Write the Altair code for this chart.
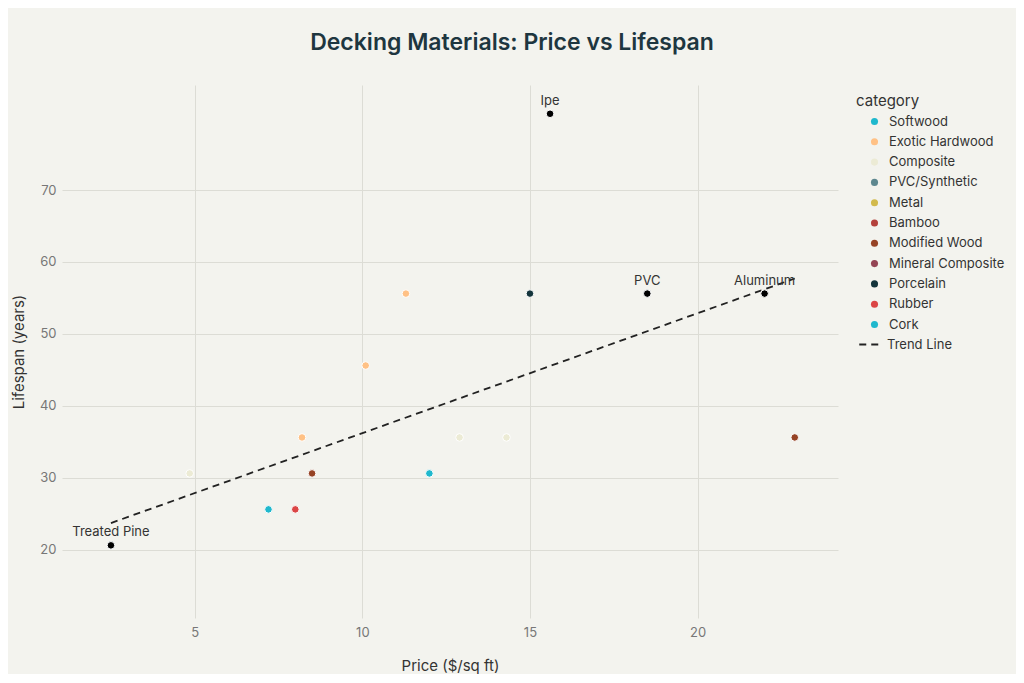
import altair as alt
import pandas as pd

# ---- data ----
price = [2.5, 7.2, 12.0, 15.6, 8.2, 10.1, 11.3, 4.85, 12.9, 14.3, 18.5, 22.0, 8.5, 22.9, 15.0, 8.0]
lifespan = [20.6, 25.6, 30.6, 80.6, 35.6, 45.6, 55.6, 30.6, 35.6, 35.6, 55.6, 55.6, 30.6, 35.6, 55.6, 25.6]
category = ["Softwood", "Softwood", "Cork", "Exotic Hardwood", "Exotic Hardwood", "Exotic Hardwood",
            "Exotic Hardwood", "Composite", "Composite", "Composite", "PVC/Synthetic", "Metal",
            "Modified Wood", "Modified Wood", "Porcelain", "Rubber"]
label = ["Treated Pine", "", "", "Ipe", "", "", "", "", "", "", "PVC", "Aluminum", "", "", "", ""]

categories = ["Softwood", "Exotic Hardwood", "Composite", "PVC/Synthetic", "Metal", "Bamboo",
              "Modified Wood", "Mineral Composite", "Porcelain", "Rubber", "Cork"]
colors = ["#1FB8CD", "#FFC185", "#ECEBD5", "#5D878F", "#D2BA4C", "#B4413C",
          "#964325", "#944454", "#13343B", "#DB4545", "#1FB8CD"]

trend_x = [2.5, 22.9]
trend_y = [23.7, 57.7]

y_ticks = [20, 30, 40, 50, 60, 70]
x_ticks = [5, 10, 15, 20]

df = pd.DataFrame({"price": price, "lifespan": lifespan, "category": category, "label": label})
trend = pd.DataFrame({"price": trend_x, "lifespan": trend_y, "series": ["Trend Line"] * len(trend_x)})

FONT = "Inter"
W, H = 776, 533
PT = 58

xscale = alt.Scale(domain=[1.04, 24.19], nice=False, zero=False)
yscale = alt.Scale(domain=[10.5, 84.6], nice=False, zero=False)

xaxis = alt.Axis(values=x_ticks, title="Price ($/sq ft)", grid=True, domain=False, ticks=False,
                 labelPadding=8, titlePadding=19)
yaxis = alt.Axis(values=y_ticks, title="Lifespan (years)", grid=True, domain=False, ticks=False,
                 labelPadding=6, titlePadding=13)

line = alt.Chart(trend).mark_line(color="#222222", strokeWidth=1.8).encode(
    x=alt.X("price:Q", scale=xscale, axis=xaxis),
    y=alt.Y("lifespan:Q", scale=yscale, axis=yaxis),
    strokeDash=alt.StrokeDash(
        "series:N",
        scale=alt.Scale(domain=["Trend Line"], range=[[7, 5]]),
        legend=alt.Legend(title=None, orient="none", legendX=796, legendY=248,
                          symbolType="stroke", symbolSize=420, symbolStrokeWidth=1.8,
                          symbolStrokeColor="#222222", labelOffset=6,
                          labelFontSize=13, labelColor="#333333", labelFont=FONT),
    ),
)

points = alt.Chart(df).mark_circle(size=PT, opacity=1, stroke="white", strokeWidth=1).encode(
    x=alt.X("price:Q", scale=xscale),
    y=alt.Y("lifespan:Q", scale=yscale),
    color=alt.Color(
        "category:N",
        scale=alt.Scale(domain=categories, range=colors),
        legend=alt.Legend(title="category", orient="none", legendX=794, legendY=9,
                          symbolType="circle", symbolSize=50, symbolOffset=12,
                          labelOffset=8, rowPadding=6.3, titlePadding=6,
                          titleFontSize=15, titleFontWeight="normal", titleColor="#333333",
                          titleFont=FONT, labelFontSize=13, labelColor="#333333",
                          labelFont=FONT, symbolStrokeWidth=0),
    ),
)

marked = alt.Chart(df).transform_filter(alt.datum.label != "").mark_circle(
    size=PT, opacity=1, color="#000000", stroke="white", strokeWidth=1
).encode(
    x=alt.X("price:Q", scale=xscale),
    y=alt.Y("lifespan:Q", scale=yscale),
)

texts = alt.Chart(df).transform_filter(alt.datum.label != "").mark_text(
    dy=-13, fontSize=13, color="#333333", font=FONT
).encode(
    x=alt.X("price:Q", scale=xscale),
    y=alt.Y("lifespan:Q", scale=yscale),
    text="label:N",
)

chart = alt.layer(line, points, marked, texts).properties(
    width=W,
    height=H,
    autosize=alt.AutoSizeParams(type="none"),
    padding={"left": 54, "top": 77, "right": 178, "bottom": 56},
    background="#F3F3EE",
    title=alt.TitleParams(
        "Decking Materials: Price vs Lifespan", anchor="middle", dx=62, offset=30,
        fontSize=23, fontWeight=600, color="#1E3640", font=FONT,
    ),
).configure_view(stroke=None, fill="#F3F3EE").configure_axis(
    gridColor="#DCDCD5", gridWidth=1, labelColor="#777777", labelFontSize=13, labelFont=FONT,
    titleColor="#333333", titleFontSize=15, titleFontWeight="normal", titleFont=FONT,
)

chart.save("out.html", embed_options={"renderer": "svg", "actions": False})
